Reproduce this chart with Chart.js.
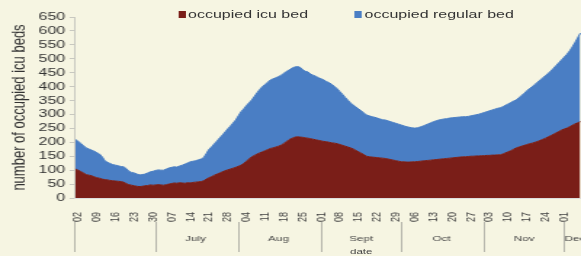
<!DOCTYPE html>
<html><head><meta charset="utf-8">
<script src="https://cdn.jsdelivr.net/npm/chart.js@4/dist/chart.umd.min.js"></script>
<style>
html,body{margin:0;padding:0;background:#f6f5e2;overflow:hidden;width:581px;height:256px;}
#wrap{position:absolute;left:0;top:0;width:400px;height:256px;transform:scaleX(1.4525);transform-origin:0 0;}
#legend{position:absolute;top:7px;left:0;width:400px;height:14px;font:11px "Liberation Sans",Arial,sans-serif;color:#333;}
.item{position:absolute;top:0;white-space:nowrap;line-height:14px;}
.box{display:inline-block;width:5px;height:7px;margin-right:2px;vertical-align:0px;}
#xtitle{position:absolute;top:247px;width:40px;text-align:center;font:8px "Liberation Sans",Arial,sans-serif;color:#444;line-height:10px;}
</style></head>
<body>
<div id="wrap"><canvas id="c"></canvas>
<div id="legend"></div><div id="xtitle"></div></div>
<script>
// ---- data ----
const seriesNames = ['occupied icu bed', 'occupied regular bed'];
const startDate = [2020, 5, 1]; // June 1 (month 0-based)
const dayCount = 190;
const icuBeds = [
104,100,95,90,84,82,80,76,73,71,
68,66,65,63,62,61,60,59,57,52,
48,46,44,42,41,42,44,45,47,46,
47,48,47,46,48,50,52,54,53,55,
54,53,55,54,56,57,58,59,62,68,
73,77,82,86,90,94,98,101,104,107,
110,114,118,124,132,140,148,153,158,162,
166,170,174,178,180,183,186,190,196,203,
210,214,218,220,219,218,216,215,213,211,
209,207,205,203,202,200,198,197,195,192,
189,186,183,180,176,171,166,161,156,150,
148,147,146,145,144,143,142,140,138,136,
134,132,130,130,129,129,130,130,131,132,
133,134,135,136,137,138,139,140,141,142,
143,144,145,146,147,148,148,149,150,150,
151,151,152,152,153,153,154,154,155,155,
158,162,166,170,175,180,183,186,189,192,
195,197,200,203,207,211,215,220,224,229,
234,239,244,248,251,256,261,266,270,274];
const regularBeds = [
106,104,101,98,96,94,92,92,90,87,
80,68,63,61,58,57,56,54,55,54,
48,46,46,44,42,42,42,45,47,50,
52,53,53,54,56,58,58,58,58,60,
64,69,71,76,76,77,79,81,83,92,
102,107,113,119,126,132,139,147,154,162,
170,181,192,196,200,202,204,212,220,228,
234,238,242,246,248,249,250,251,252,252,
250,252,252,252,251,244,239,238,232,230,
228,225,223,221,216,214,210,203,197,190,
183,175,168,161,158,156,154,152,149,148,
147,145,144,142,140,138,138,137,136,135,
134,133,132,129,127,125,122,121,121,123,
125,128,131,134,137,139,141,142,143,143,
144,144,144,144,144,144,144,144,145,147,
148,150,152,155,157,160,162,165,167,169,
170,171,172,173,173,172,177,182,187,193,
198,203,208,213,217,221,225,228,232,237,
242,247,252,258,265,272,281,292,305,318];
const yTicks = [0,50,100,150,200,250,300,350,400,450,500,550,600,650];
const monthNames = ['July','Aug','Sept','Oct','Nov','Dec'];
const monthLabelIdx = [45,76,107,137,168,187];
const monthStartIdx = [0,30,61,92,122,153,183];
const weeklyTickOffset = 1;
const xAxisTitle = 'date';
const xAxisTitleIdx = 107;
const colors = ['#7a1e18', '#4a7ec4'];

// ---- categories (daily dates) ----
const categories = [];
const dayNums = [];
for (let i = 0; i < dayCount; i++) {
  const d = new Date(startDate[0], startDate[1], startDate[2] + i);
  categories.push(d.toISOString().slice(0,10));
  dayNums.push(String(d.getDate()).padStart(2,'0'));
}
const monthRow = categories.map(() => '');
monthLabelIdx.forEach((idx, k) => { monthRow[idx] = monthNames[k]; });

// ---- legend ----
const legend = document.getElementById('legend');
const legendX = [122.5, 244];
seriesNames.forEach((n, i) => {
  const it = document.createElement('div');
  it.className = 'item';
  it.style.left = legendX[i] + 'px';
  it.innerHTML = '<span class="box" style="background:' + colors[i] + '"></span>' + n;
  legend.appendChild(it);
});

const FONT = '"Liberation Sans", Arial, sans-serif';
const placeTitle = {
  id: 'placeTitle',
  afterRender(chart) {
    const el = document.getElementById('xtitle');
    el.textContent = xAxisTitle;
    el.style.left = (chart.scales.x.getPixelForValue(xAxisTitleIdx) - 20) + 'px';
  }
};
new Chart(document.getElementById('c'), {
  type: 'line',
  data: {
    labels: categories,
    datasets: [
      { label: seriesNames[0], data: icuBeds, backgroundColor: colors[0], borderColor: colors[0], borderWidth: 1, fill: 'origin', pointRadius: 0, tension: 0 },
      { label: seriesNames[1], data: regularBeds, backgroundColor: colors[1], borderColor: colors[1], borderWidth: 1, fill: '-1', pointRadius: 0, tension: 0 }
    ]
  },
  plugins: [placeTitle],
  options: {
    animation: false,
    responsive: true,
    maintainAspectRatio: false,
    layout: { padding: { left: 4, right: 0, top: 17, bottom: 0 } },
    plugins: { legend: { display: false }, tooltip: { enabled: false } },
    scales: {
      y: {
        stacked: true, min: 0, max: 650,
        afterBuildTicks: s => { s.ticks = yTicks.map(v => ({ value: v })); },
        ticks: { autoSkip: false, font: { family: FONT, size: 11, lineHeight: 1 }, color: '#333', padding: 3 },
        grid: { display: true, drawOnChartArea: false, tickLength: 4, color: '#c8c8c0' },
        border: { display: true, color: '#c8c8c0' },
        title: { display: true, text: 'number of occupied icu beds', font: { family: FONT, size: 13 }, color: '#333', padding: { top: 2, bottom: 2 } }
      },
      x: {
        stacked: true,
        afterFit: s => { s.height = 24; s.paddingRight = 0; s.paddingLeft = 0; },
        ticks: {
          autoSkip: false, minRotation: 90, maxRotation: 90, padding: 6,
          font: { family: FONT, size: 9 }, color: '#444',
          callback: (v, i) => (i % 7 === weeklyTickOffset ? dayNums[i] : '')
        },
        grid: { display: false },
        border: { display: true, color: '#ddd' }
      },
      x2: {
        type: 'category', position: 'bottom', labels: monthRow,
        afterFit: s => { s.height = 34; s.paddingRight = 0; s.paddingLeft = 0; },
        ticks: {
          autoSkip: false, minRotation: 0, maxRotation: 0, padding: -18,
          font: { family: FONT, size: 8 }, color: '#444',
          callback: (v, i) => monthRow[i]
        },
        grid: {
          display: true, drawOnChartArea: false, tickLength: 30, lineWidth: 1,
          color: ctx => (monthStartIdx.includes(ctx.index) ? '#b4b4aa' : 'rgba(0,0,0,0)')
        },
        border: { display: false }
      }
    }
  }
});
</script>
</body></html>
